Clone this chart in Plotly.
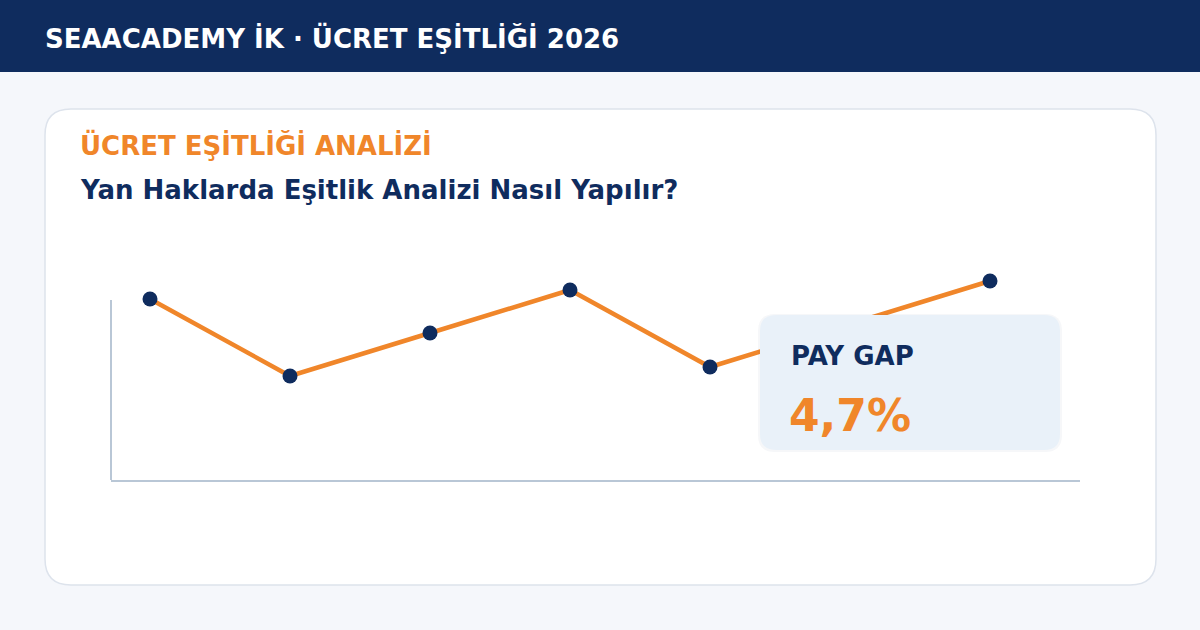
import plotly.graph_objects as go

# ---- data ----
periods = ["P1", "P2", "P3", "P4", "P5", "P6", "P7"]
gap_index = [90.5, 52.0, 73.5, 95.0, 56.5, 78.0, 99.5]
header_text = "SEAACADEMY İK · ÜCRET EŞİTLİĞİ 2026"
kicker_text = "ÜCRET EŞİTLİĞİ ANALİZİ"
title_text = "Yan Haklarda Eşitlik Analizi Nasıl Yapılır?"
kpi_label = "PAY GAP"
kpi_value = "4,7%"

NAVY = "#0f2c5e"
ORANGE = "#f0862a"
BG = "#f5f7fb"
AXIS = "#b9c7d6"
FONT = "DejaVu Sans"

# plot area in pixels
PL, PR, PT, PB = 111, 1080, 260, 480
PW, PH = PR - PL, PB - PT


def pp(x, y):
    return (x - PL) / PW, (PB - y) / PH


def rrect(x0, y0, x1, y1, r):
    pts = [
        ("M", [(x0 + r, y0)]),
        ("L", [(x1 - r, y0)]),
        ("Q", [(x1, y0), (x1, y0 + r)]),
        ("L", [(x1, y1 - r)]),
        ("Q", [(x1, y1), (x1 - r, y1)]),
        ("L", [(x0 + r, y1)]),
        ("Q", [(x0, y1), (x0, y1 - r)]),
        ("L", [(x0, y0 + r)]),
        ("Q", [(x0, y0), (x0 + r, y0)]),
    ]
    s = ""
    for cmd, ps in pts:
        s += cmd + " " + " ".join("%.5f,%.5f" % pp(px, py) for px, py in ps) + " "
    return s + "Z"


fig = go.Figure()
fig.add_trace(go.Scatter(
    x=list(range(len(periods))), y=gap_index, mode="lines+markers",
    line=dict(color=ORANGE, width=4.5),
    marker=dict(color=NAVY, size=15, line=dict(width=0)),
    hoverinfo="skip", showlegend=False,
))

shapes = []
# header bar
hx0, hy0 = pp(0, 0)
hx1, hy1 = pp(1200, 72)
shapes.append(dict(type="rect", xref="paper", yref="paper", x0=hx0, y0=hy1, x1=hx1, y1=hy0,
                   fillcolor=NAVY, line=dict(width=0), layer="below"))
# card
shapes.append(dict(type="path", xref="paper", yref="paper", path=rrect(45, 109, 1156, 585, 26),
                   fillcolor="#ffffff", line=dict(color="#dde3ec", width=1.5), layer="below"))
# y axis line
shapes.append(dict(type="line", xref="paper", yref="paper", x0=0, x1=0,
                   y0=0, y1=pp(0, 300)[1], line=dict(color=AXIS, width=2), layer="below"))
# kpi box shadow + box
shapes.append(dict(type="path", xref="paper", yref="paper", path=rrect(758, 314, 1062, 452, 17),
                   fillcolor="rgba(15,44,94,0.04)", line=dict(width=0), layer="above"))
shapes.append(dict(type="path", xref="paper", yref="paper", path=rrect(760, 315, 1060, 450, 16),
                   fillcolor="#e9f1f9", line=dict(width=0), layer="above"))

annotations = []


def txt(s, x, y, size, color):
    ax, ay = pp(x, y)
    annotations.append(dict(text="<b>%s</b>" % s, x=ax, y=ay, xref="paper", yref="paper",
                            xanchor="left", yanchor="middle", showarrow=False,
                            font=dict(family=FONT, size=size, color=color)))


txt(header_text, 43, 38, 26, "#ffffff")
txt(kicker_text, 78, 145, 26, ORANGE)
txt(title_text, 78, 190, 26, NAVY)
txt(kpi_label, 789, 356, 26, NAVY)
txt(kpi_value, 787, 415, 44, ORANGE)

fig.update_layout(
    width=1200, height=630,
    margin=dict(l=PL, r=1200 - PR, t=PT, b=630 - PB, pad=0),
    paper_bgcolor=BG, plot_bgcolor="rgba(0,0,0,0)",
    shapes=shapes, annotations=annotations,
    xaxis=dict(range=[-39 / 140, 930 / 140], showgrid=False, zeroline=False,
               showticklabels=False, ticks="", showline=True, linecolor=AXIS, linewidth=2,
               fixedrange=True),
    yaxis=dict(range=[0, 110], showgrid=False, zeroline=False, showticklabels=False,
               ticks="", showline=False, fixedrange=True),
    hovermode=False,
)

fig.write_html("out.html", config={"displayModeBar": False},
               post_script="document.body.style.margin='0';document.body.style.overflow='hidden';")
